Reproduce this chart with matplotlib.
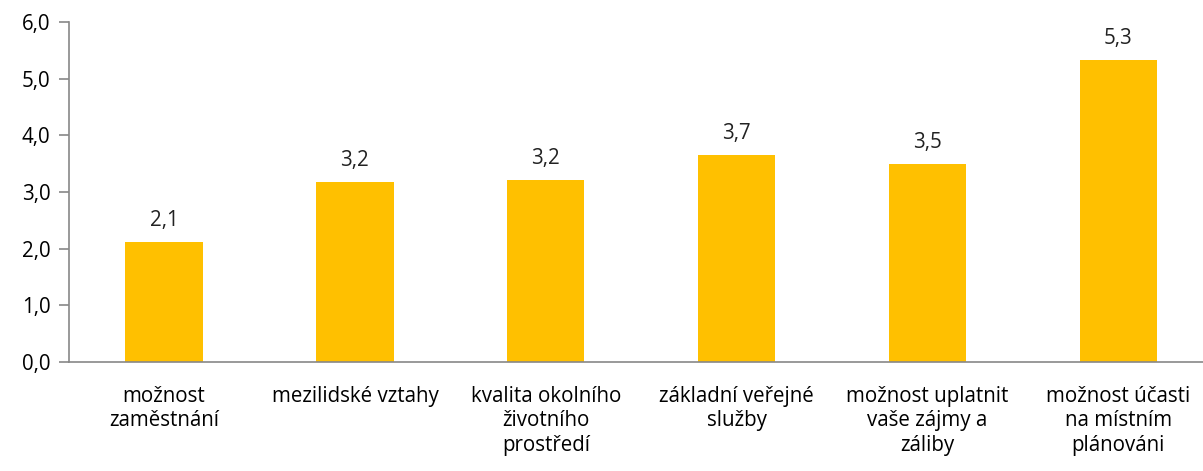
import matplotlib
matplotlib.use('Agg')
import matplotlib.pyplot as plt

# data
categories = ["možnost\nzaměstnání", "mezilidské vztahy", "kvalita okolního\nživotního\nprostředí",
              "základní veřejné\nslužby", "možnost uplatnit\nvaše zájmy a\nzáliby",
              "možnost účasti\nna místním\nplánováni"]
values = [2.12, 3.17, 3.21, 3.65, 3.49, 5.33]
value_labels = ["2,1", "3,2", "3,2", "3,7", "3,5", "5,3"]
yticks = [0, 1, 2, 3, 4, 5, 6]

plt.rcParams['font.family'] = ['Open Sans', 'DejaVu Sans']
fs = 14.8

fig = plt.figure(figsize=(12.03, 4.71), dpi=100)
ax = fig.add_axes([0.057, 0.2314, 0.952, 0.7219])

x = list(range(len(values)))
ax.bar(x, values, width=0.405, color='#FFC000', zorder=2)

for xi, v, lab in zip(x, values, value_labels):
    ax.text(xi, v + 0.2, lab, ha='center', va='bottom', fontsize=fs, color='#222222')

ax.set_xlim(-0.5, 5.5)
ax.set_ylim(0, 6)
ax.set_yticks(yticks)
ax.set_yticklabels(["%d,0" % t for t in yticks], fontsize=fs)
ax.set_xticks(x)
ax.set_xticklabels(categories, fontsize=fs, linespacing=1.22, va='top')
ax.tick_params(axis='x', length=0, pad=17)
ax.tick_params(axis='y', length=7, color='#888888', pad=6, width=1.2)

for s in ['top', 'right']:
    ax.spines[s].set_visible(False)
for s in ['left', 'bottom']:
    ax.spines[s].set_color('#888888')
    ax.spines[s].set_linewidth(1.2)

fig.savefig('out.png', dpi=100)
